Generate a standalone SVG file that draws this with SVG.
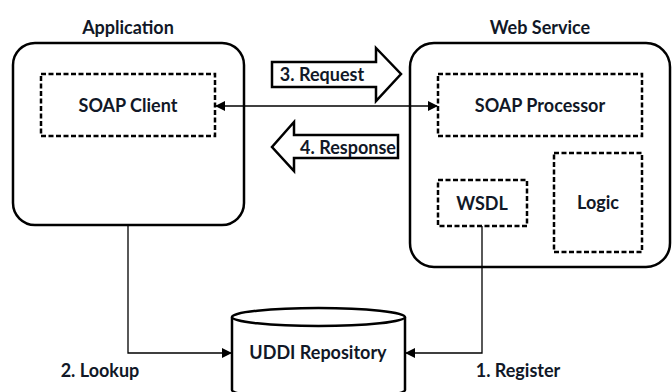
<svg xmlns="http://www.w3.org/2000/svg" width="672" height="392" viewBox="0 0 672 392">
<style>
.box{fill:#fff;stroke:#000;stroke-width:2.5}
.dash{fill:none;stroke:#000;stroke-width:2.5;stroke-dasharray:5,2.5}
.lbl{font-family:Lato,"Open Sans",sans-serif;font-weight:bold;font-size:18px;fill:#111827;text-anchor:middle;dominant-baseline:central}
.ln{fill:none;stroke:#000;stroke-width:1.3}
.big{fill:#fff;stroke:#000;stroke-width:2.5;stroke-linejoin:miter}
</style>
<defs>
<marker id="ah" markerWidth="10" markerHeight="10" refX="9" refY="5" orient="auto-start-reverse" markerUnits="userSpaceOnUse">
<path d="M0,0 L10,5 L0,10 Z" fill="#000"/>
</marker>
</defs>
<rect width="672" height="392" fill="#fff"/>
<g id="application">
<text class="lbl" x="128" y="27">Application</text>
<rect class="box" x="13" y="43" width="231" height="182" rx="22"/>
</g>
<g id="web-service">
<text class="lbl" x="540" y="27">Web Service</text>
<rect class="box" x="410" y="43" width="260" height="224" rx="24"/>
</g>
<g id="soap-client">
<rect class="dash" x="41" y="74" width="174" height="62"/>
<text class="lbl" x="128" y="105">SOAP Client</text>
</g>
<g id="soap-processor">
<rect class="dash" x="438" y="74" width="204" height="62"/>
<text class="lbl" x="540" y="105">SOAP Processor</text>
</g>
<g id="wsdl">
<rect class="dash" x="438" y="180" width="89" height="46"/>
<text class="lbl" x="482" y="203">WSDL</text>
</g>
<g id="logic">
<rect class="dash" x="554" y="153" width="88" height="99"/>
<text class="lbl" x="598" y="202">Logic</text>
</g>
<g id="uddi">
<path class="box" d="M232,317 L232,390 A86.5,9 0 0 0 405,390 L405,317"/>
<ellipse class="box" cx="318.5" cy="317" rx="86.5" ry="9"/>
<text class="lbl" x="318" y="352">UDDI Repository</text>
</g>
<g id="request">
<path class="big" d="M272,62 L376,62 L376,48 L401,74 L376,101 L376,87 L272,87 Z"/>
<text class="lbl" x="322" y="74">3. Request</text>
</g>
<g id="response">
<path class="big" d="M398,135 L294,135 L294,122 L272,147 L294,171 L294,158 L398,158 Z"/>
<text class="lbl" x="348" y="147">4. Response</text>
</g>
<g id="connectors">
<line class="ln" x1="216" y1="106" x2="437" y2="106" marker-start="url(#ah)" marker-end="url(#ah)"/>
<polyline class="ln" points="128,225 128,353 231,353" marker-end="url(#ah)"/>
<polyline class="ln" points="482,226 482,353 406,353" marker-end="url(#ah)"/>
</g>
<text class="lbl" x="100" y="370">2. Lookup</text>
<text class="lbl" x="518" y="370">1. Register</text>
</svg>
